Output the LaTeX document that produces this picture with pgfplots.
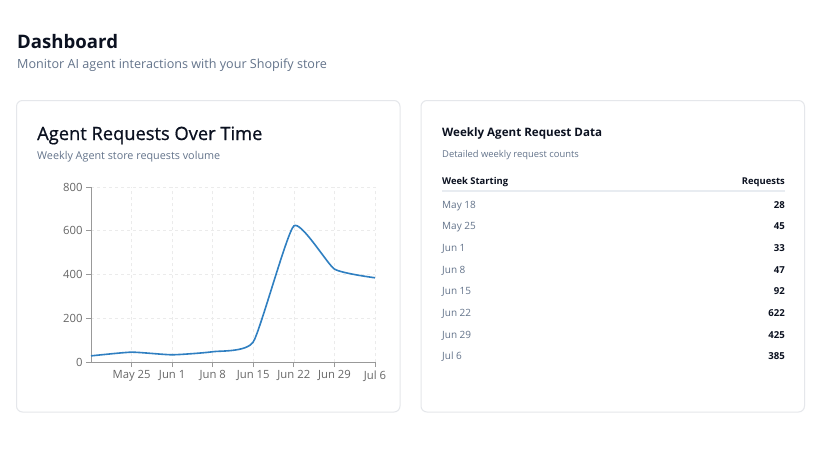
\documentclass[border=0pt]{standalone}
\usepackage{pgfplots}
\pgfplotsset{compat=1.18}
\usepackage{fontspec}
\setmainfont{Open Sans}
\newfontfamily\medfont{Open Sans}[FakeBold=0.8]
\definecolor{ink}{HTML}{0B1120}
\definecolor{subgray}{HTML}{64748B}
\definecolor{cardb}{HTML}{E5E7EB}
\definecolor{sepgray}{HTML}{E8ECF1}
\definecolor{axisgray}{HTML}{999999}
\definecolor{labelgray}{HTML}{666666}
\definecolor{gridgray}{HTML}{EBEBEB}
\definecolor{lineblue}{HTML}{2F7FC1}
\begin{document}
\begin{tikzpicture}[x=1pt,y=-1pt]
\path[use as bounding box, fill=white] (0,0) rectangle (828,466);
% cards
\draw[cardb, line width=1pt, rounded corners=6pt] (16.5,100.5) rectangle (400,412);
\draw[cardb, line width=1pt, rounded corners=6pt] (421,100.5) rectangle (804.5,412);
% header
\node[anchor=base west, inner sep=0, text=ink, font=\fontsize{18.6}{20}\selectfont\bfseries] at (17,48.3) {Dashboard};
\node[anchor=base west, inner sep=0, text=subgray, font=\fontsize{12.6}{14}\selectfont] at (17,68.3) {Monitor AI agent interactions with your Shopify store};
% card 1 titles
\node[anchor=base west, inner sep=0, text=ink, font=\fontsize{18.3}{21}\medfont] at (37,140) {Agent Requests Over Time};
\node[anchor=base west, inner sep=0, text=subgray, font=\fontsize{10.8}{12}\selectfont] at (37,159) {Weekly Agent store requests volume};
% card 2 titles
\node[anchor=base west, inner sep=0, text=ink, font=\fontsize{11.6}{15}\selectfont\bfseries] at (442,136.7) {Weekly Agent Request Data};
\node[anchor=base west, inner sep=0, text=subgray, font=\fontsize{9.4}{11}\selectfont] at (442,157.3) {Detailed weekly request counts};
\node[anchor=base west, inner sep=0, text=ink, font=\fontsize{9.4}{12}\selectfont\bfseries] at (442,184) {Week Starting};
\node[anchor=base east, inner sep=0, text=ink, font=\fontsize{9.4}{12}\selectfont\bfseries] at (785,184) {Requests};
\draw[sepgray, line width=1.5pt] (442,191) -- (785,191);
\foreach \lab/\val [count=\i from 0] in {May 18/28, May 25/45, Jun 1/33, Jun 8/47, Jun 15/92, Jun 22/622, Jun 29/425, Jul 6/385}{
  \node[anchor=base west, inner sep=0, text=subgray, font=\fontsize{10}{12}\selectfont] at (442,{208.3+21.67*\i}) {\lab};
  \node[anchor=base east, inner sep=0, text=ink, font=\fontsize{9.6}{12}\selectfont\bfseries] at (785,{208.3+21.67*\i}) {\val};
}
\begin{axis}[
 at={(91pt,-362pt)}, anchor=south west, scale only axis, width=284pt, height=175pt,
 xmin=0, xmax=7, ymin=0, ymax=800,
 axis lines=left, axis line style={-, draw=axisgray, line width=0.8pt},
 xtick={1,...,7}, xticklabels={May 25,Jun 1,Jun 8,Jun 15,Jun 22,Jun 29,Jul 6},
 ytick={0,200,400,600,800},
 tick align=outside, major tick length=5pt, tick style={axisgray, line width=0.8pt},
 grid=major, grid style={dash pattern=on 3pt off 3pt, gridgray, line width=0.6pt},
 ticklabel style={font=\fontsize{11.3}{12}\selectfont, text=labelgray},
 /pgf/number format/assume math mode=true,
 clip=false,
]
\addplot[lineblue, line width=1.6pt, smooth, tension=0.3] coordinates {(0,28) (1,45) (2,33) (3,47) (4,92) (5,622) (6,425) (7,385)};
\end{axis}
\end{tikzpicture}
\end{document}
